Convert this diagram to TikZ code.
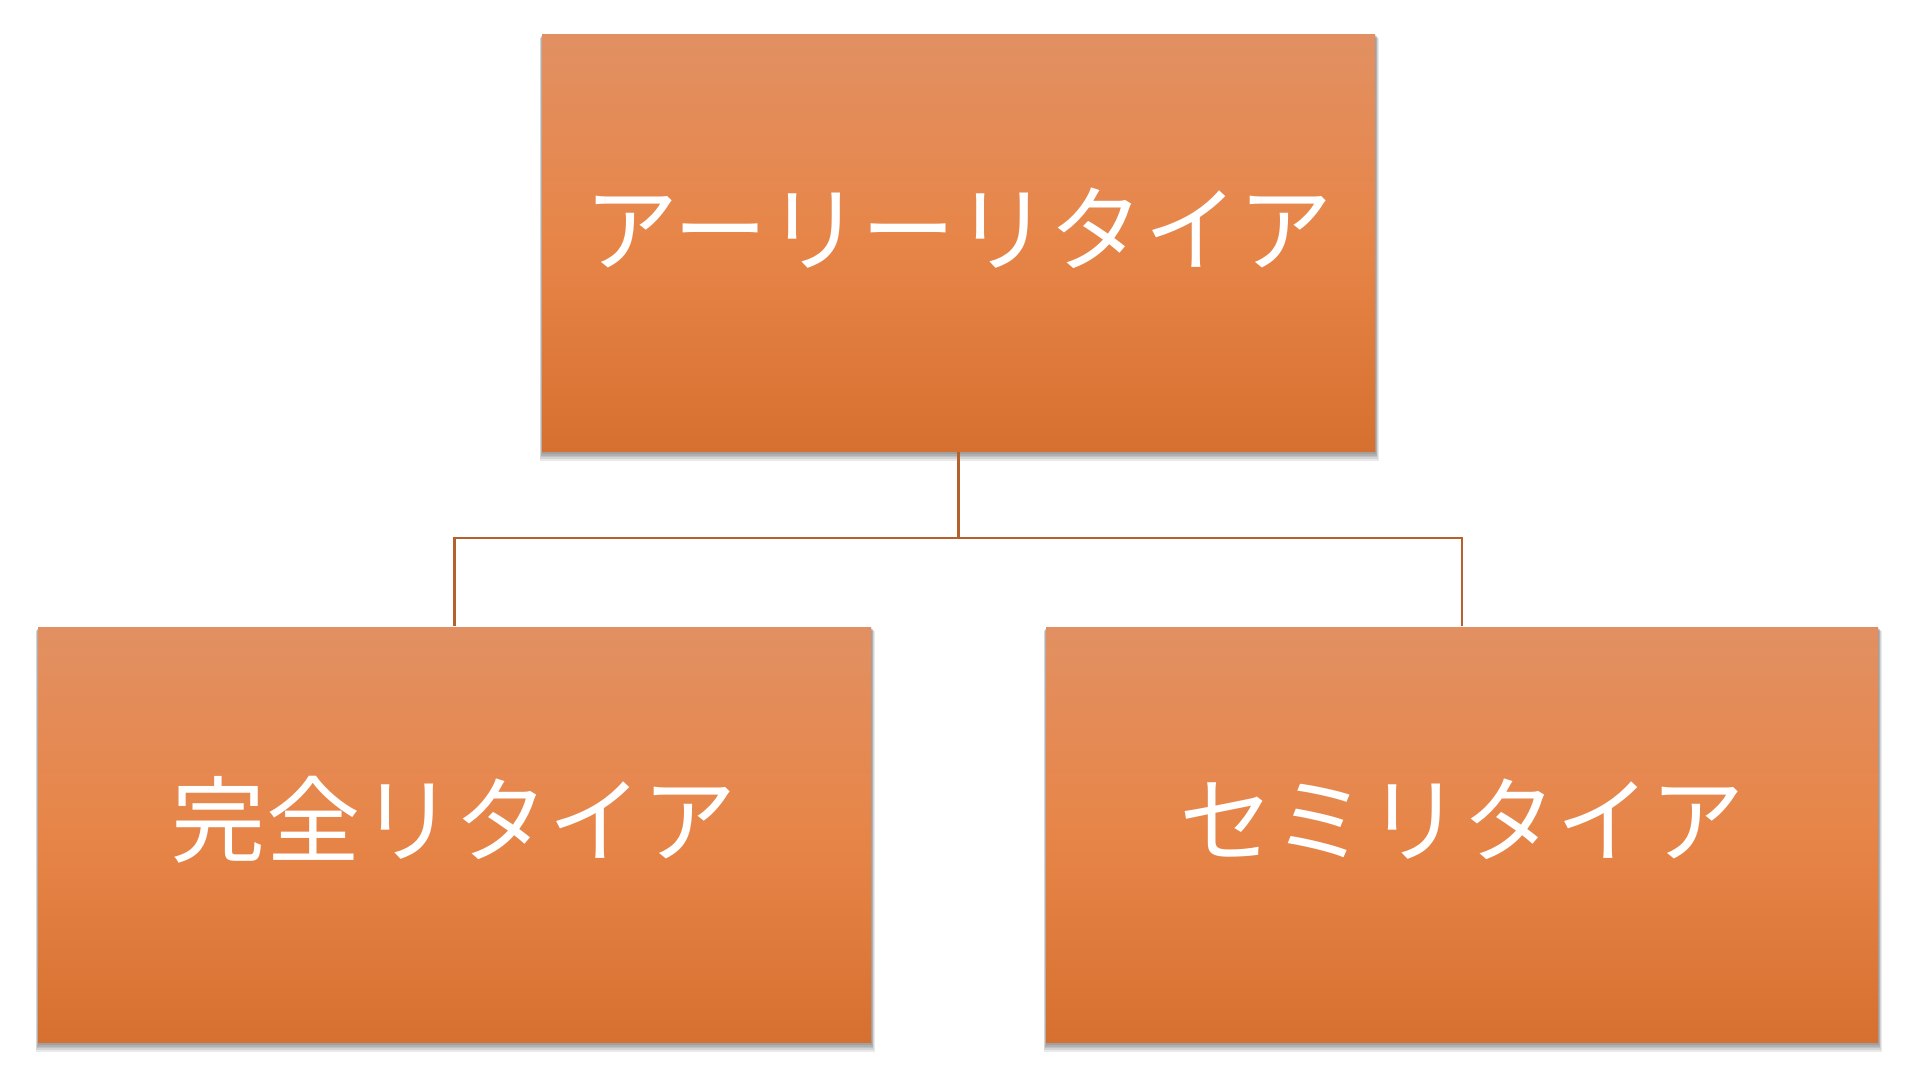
\documentclass[tikz,border=0pt]{standalone}
\usepackage{fontspec}
\newfontfamily\jp{Noto Sans CJK JP}
\definecolor{boxtop}{RGB}{226,144,98}
\definecolor{boxmid}{RGB}{231,133,72}
\definecolor{boxbot}{RGB}{214,112,48}
\definecolor{connc}{RGB}{181,97,46}
\tikzset{
  orgbox/.style={rectangle, minimum width=8.33cm, inner sep=0pt,
    top color=boxtop, bottom color=boxbot, middle color=boxmid},
  shadowrect/.style={fill=black, fill opacity=0.085, draw=none},
  lbl/.style={text=white, inner sep=0pt, font=\jp\fontsize{26.8}{30}\selectfont},
  conn/.style={draw=connc, line width=0.8pt}
}
\newcommand\myshadow[4]{% x1 y1 x2 y2 (box corners, top-left / bottom-right)
  \foreach \d in {0.015,0.03,0.045,0.06,0.08}{
    \fill[shadowrect] (#1-0.3*\d,#2-0.5*\d) rectangle (#3+0.5*\d,#4-\d-0.015);
  }%
}
\begin{document}
\begin{tikzpicture}
\useasboundingbox (0,0) rectangle (19.2,-10.9);
\fill[white] (0,0) rectangle (19.2,-10.9);
\myshadow{5.42}{-0.34}{13.75}{-4.51}
\myshadow{0.38}{-6.27}{8.71}{-10.42}
\myshadow{10.46}{-6.27}{18.78}{-10.42}
\node[orgbox, minimum height=4.17cm] (top) at (9.585,-2.425) {};
\node[orgbox, minimum height=4.15cm] (bl) at (4.545,-8.345) {};
\node[orgbox, minimum height=4.15cm, minimum width=8.32cm] (br) at (14.62,-8.345) {};
\coordinate (j) at (9.585,-5.38);
\draw[conn] (top.south) -- (j);
\draw[conn] (j) -| (bl.north);
\draw[conn] (j) -| (br.north);
\node[lbl] (topt) at ([yshift=1.4mm]top.center) {アーリーリタイア};
\node[lbl] (blt) at ([yshift=1.5mm]bl.center) {完全リタイア};
\node[lbl] (brt) at ([yshift=1.5mm]br.center) {セミリタイア};
\end{tikzpicture}
\end{document}
